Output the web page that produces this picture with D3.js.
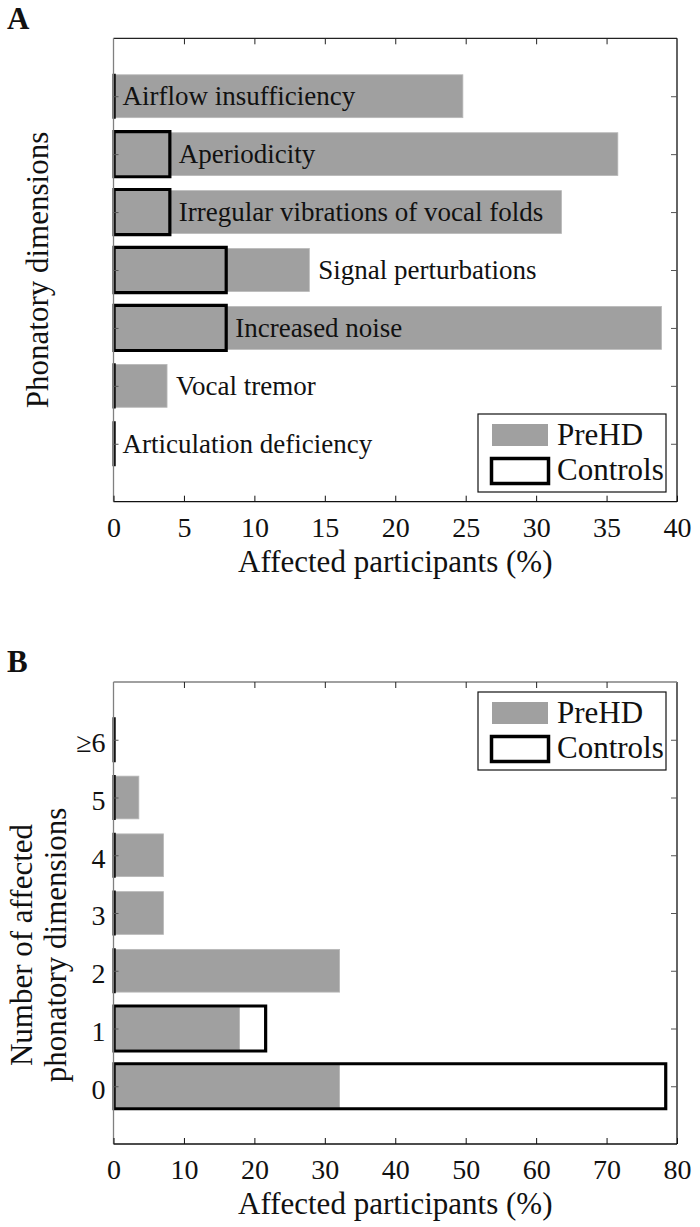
<!DOCTYPE html>
<html><head><meta charset="utf-8">
<script src="https://cdn.jsdelivr.net/npm/d3@7"></script>
<style>
html,body{margin:0;padding:0;background:#fff;}
svg{display:block;}
text{font-family:"Liberation Serif","Times New Roman",serif;fill:#111;}
</style></head>
<body>
<svg id="chart" width="700" height="1227"></svg>
<script>
// ---- Data ----
const catsA = ["Airflow insufficiency","Aperiodicity","Irregular vibrations of vocal folds","Signal perturbations","Increased noise","Vocal tremor","Articulation deficiency"];
const preHDA = [24.8, 35.8, 31.8, 13.9, 38.9, 3.8, 0];
const controlsA = [0, 4, 4, 8, 8, 0, 0];
const xTicksA = [0,5,10,15,20,25,30,35,40];

const catsB = ["≥6","5","4","3","2","1","0"];
const preHDB = [0, 3.6, 7.1, 7.1, 32.1, 17.9, 32.1];
const controlsB = [0, 0, 0, 0, 0, 21.6, 78.4];
const xTicksB = [0,10,20,30,40,50,60,70,80];

const seriesNames = ["PreHD","Controls"];
const xTitle = "Affected participants (%)";
const yTitleA = ["Phonatory dimensions"];
const yTitleB = ["Number of affected","phonatory dimensions"];

// ---- Style ----
const GREY = "#a0a0a0";
const FONT = '"Liberation Serif","Times New Roman",serif';
const svg = d3.select("#chart");

function panel(opts){
  const {top,bottom,left,right,cats,pre,ctrl,xTicks,xMax,letter,letterY,yTitle,yTitleCx,yTitleBase,catLabelsInside,legendTop} = opts;
  const n = cats.length;
  const g = svg.append("g");
  const x = d3.scaleLinear().domain([0,xMax]).range([left,right]);
  const y = d3.scaleLinear().domain([0,n+1]).range([bottom,top]);
  const pos = i => n - i;
  const step = Math.abs(y(1)-y(0));

  // PreHD bars
  g.selectAll("rect.pre").data(pre).join("rect").attr("class","pre")
    .attr("x", x(0)).attr("width", d => Math.max(0, x(d)-x(0)))
    .attr("y", (d,i) => y(pos(i)) - step*0.37).attr("height", step*0.74)
    .attr("fill", GREY).attr("stroke","#b8b8b8").attr("stroke-width",0.8);

  // Controls outlines (path so zero-width bars still show as a line)
  g.selectAll("path.ctl").data(ctrl).join("path").attr("class","ctl")
    .attr("d", (d,i) => {
      const x0 = x(0)+0.6, x1 = Math.max(x0, x(d));
      const y0 = y(pos(i)) - step*0.39, y1 = y(pos(i)) + step*0.39;
      return `M${x0},${y0}H${x1}V${y1}H${x0}Z`;
    })
    .attr("fill","none").attr("stroke","#000").attr("stroke-width",3.2).attr("stroke-linejoin","miter");

  // Box borders
  g.append("line").attr("x1",left).attr("x2",right).attr("y1",bottom).attr("y2",bottom).attr("stroke","#111").attr("stroke-width",1.3);
  g.append("line").attr("x1",right).attr("x2",right).attr("y1",top).attr("y2",bottom).attr("stroke","#111").attr("stroke-width",1.3);
  g.append("line").attr("x1",left).attr("x2",right).attr("y1",top).attr("y2",top).attr("stroke",opts.topColor).attr("stroke-width",1.3);
  g.append("line").attr("x1",left).attr("x2",left).attr("y1",top).attr("y2",bottom).attr("stroke","#808080").attr("stroke-width",1.3);

  // Bottom axis (inward ticks, labels)
  const ax = g.append("g").attr("transform",`translate(0,${bottom})`)
    .call(d3.axisBottom(x).tickValues(xTicks).tickSize(-6).tickFormat(d3.format("d")));
  ax.attr("font-family",null);
  ax.select(".domain").remove();
  ax.selectAll(".tick line").attr("stroke","#111");
  ax.selectAll(".tick text").attr("y",35).attr("dy",null)
    .style("font-size","28px").style("font-family",FONT).attr("fill","#111");
  // Top axis ticks
  const axT = g.append("g").attr("transform",`translate(0,${top})`)
    .call(d3.axisTop(x).tickValues(xTicks.slice(1,-1)).tickSize(-6).tickFormat(""));
  axT.select(".domain").remove();
  axT.selectAll(".tick line").attr("stroke","#222");
  // Right axis ticks
  const posVals = d3.range(1,n+1);
  const axR = g.append("g").attr("transform",`translate(${right},0)`)
    .call(d3.axisRight(y).tickValues(posVals).tickSize(-6).tickFormat(""));
  axR.select(".domain").remove();
  axR.selectAll(".tick line").attr("stroke","#555");
  // Left axis
  const axL = g.append("g").attr("transform",`translate(${left},0)`)
    .call(d3.axisLeft(y).tickValues(posVals).tickSize(-5).tickPadding(8)
      .tickFormat(v => catLabelsInside ? "" : cats[n - v]));
  axL.attr("font-family",null);
  axL.select(".domain").remove();
  axL.selectAll(".tick line").attr("stroke","#555");
  axL.selectAll(".tick text").attr("dy","0.42em").style("font-size","28px")
    .style("font-family",FONT).attr("fill","#111");

  // Category labels inside plot
  if (catLabelsInside){
    const pad = 9;
    const labels = g.selectAll("text.cat").data(cats).join("text").attr("class","cat")
      .text(d=>d).style("font-size","27px")
      .attr("y",(d,i)=>y(pos(i))).attr("dy","0.33em");
    labels.each(function(d,i){
      const w = this.getComputedTextLength();
      const xc = x(ctrl[i]) + pad;
      const xp = x(pre[i]);
      const xpos = (xc + w <= xp) ? xc : xp + pad;
      d3.select(this).attr("x", xpos);
    });
  }

  // Legend
  const lgW = 188, lgH = 78;
  const lgX = right - 11 - lgW;
  const lgY = legendTop;
  const lg = g.append("g").attr("transform",`translate(${lgX},${lgY})`);
  lg.append("rect").attr("width",lgW).attr("height",lgH).attr("fill","#fff").attr("stroke","#111").attr("stroke-width",1.2);
  lg.append("rect").attr("x",14).attr("y",10).attr("width",56).attr("height",22).attr("fill",GREY);
  lg.append("rect").attr("x",13.5).attr("y",44.5).attr("width",57).attr("height",25).attr("fill","none").attr("stroke","#000").attr("stroke-width",3.5);
  lg.selectAll("text").data(seriesNames).join("text")
    .attr("x",79).attr("y",(d,i)=> i===0 ? 31 : 66).text(d=>d).style("font-size","31px");

  // X title
  g.append("text").attr("x",(left+right)/2).attr("y",bottom+70).attr("text-anchor","middle")
    .style("font-size","31px").text(xTitle);

  // Y title (rotated)
  const yt = g.append("text").attr("transform",`rotate(-90)`).attr("text-anchor","middle").style("font-size","31px");
  yTitle.forEach((t,k)=>{
    yt.append("tspan").attr("x",-yTitleCx).attr("y",yTitleBase[k]).text(t);
  });

  // Panel letter
  g.append("text").attr("x",7).attr("y",letterY).style("font-size","31px").style("font-weight","bold").text(letter);
}

panel({top:38.3,bottom:501.7,left:113.5,right:677,cats:catsA,pre:preHDA,ctrl:controlsA,xTicks:xTicksA,xMax:40,
  letter:"A",letterY:29,yTitle:yTitleA,yTitleCx:270,yTitleBase:[48],catLabelsInside:true,legendTop:414,topColor:"#222"});
panel({top:682,bottom:1144,left:113.5,right:677,cats:catsB,pre:preHDB,ctrl:controlsB,xTicks:xTicksB,xMax:80,
  letter:"B",letterY:672,yTitle:yTitleB,yTitleCx:945,yTitleBase:[32,66],catLabelsInside:false,legendTop:692,topColor:"#808080"});
</script>
</body></html>
